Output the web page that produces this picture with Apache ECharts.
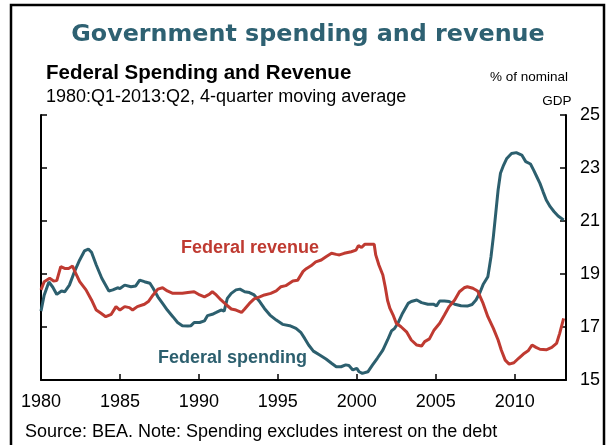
<!DOCTYPE html>
<html>
<head>
<meta charset="utf-8">
<script src="https://cdn.jsdelivr.net/npm/echarts@6/dist/echarts.min.js"></script>
<style>
html,body{margin:0;padding:0;background:#fff;}
#chart{width:609px;height:445px;}
</style>
</head>
<body>
<div id="chart"></div>
<script>
// Data (year, % of nominal GDP)
var spendingData = [
[1980.0,17.6],[1980.2,18.2],[1980.5,18.7],[1980.75,18.5],[1981.0,18.23],[1981.3,18.36],[1981.5,18.33],[1981.8,18.58],
[1982.1,19.06],[1982.45,19.53],[1982.75,19.87],[1983.0,19.94],[1983.2,19.82],[1983.5,19.34],[1983.85,18.84],[1984.3,18.36],
[1984.55,18.4],[1984.85,18.48],[1985.0,18.45],[1985.3,18.58],[1985.7,18.52],[1986.0,18.55],[1986.25,18.77],[1986.55,18.71],
[1986.9,18.65],[1987.1,18.46],[1987.4,18.14],[1987.7,17.89],[1988.0,17.64],[1988.35,17.39],[1988.65,17.17],[1988.95,17.05],
[1989.3,17.04],[1989.5,17.05],[1989.7,17.17],[1990.05,17.17],[1990.35,17.23],[1990.55,17.43],[1990.85,17.48],[1991.1,17.55],
[1991.4,17.64],[1991.6,17.6],[1991.8,18.08],[1992.05,18.27],[1992.35,18.4],[1992.6,18.43],[1992.9,18.33],[1993.2,18.3],
[1993.5,18.21],[1993.85,17.96],[1994.15,17.7],[1994.5,17.45],[1994.9,17.26],[1995.3,17.1],[1995.75,17.05],[1996.15,16.95],
[1996.45,16.8],[1996.7,16.57],[1996.95,16.32],[1997.25,16.09],[1997.65,15.94],[1998.05,15.79],[1998.4,15.63],[1998.7,15.5],
[1999.0,15.5],[1999.3,15.57],[1999.5,15.55],[1999.75,15.38],[2000.0,15.44],[2000.15,15.31],[2000.35,15.25],[2000.7,15.31],
[2001.0,15.57],[2001.3,15.82],[2001.65,16.13],[2001.95,16.51],[2002.2,16.85],[2002.4,16.95],[2002.6,17.14],[2002.9,17.52],
[2003.25,17.89],[2003.45,17.96],[2003.8,18.02],[2004.1,17.92],[2004.5,17.86],[2004.85,17.86],[2005.05,17.8],[2005.25,17.98],
[2005.55,17.98],[2005.85,17.96],[2006.2,17.86],[2006.6,17.8],[2007.0,17.79],[2007.3,17.85],[2007.55,18.02],[2007.8,18.3],
[2008.0,18.6],[2008.3,18.9],[2008.5,19.65],[2008.65,20.41],[2008.8,21.29],[2008.95,22.17],[2009.1,22.8],[2009.3,23.11],
[2009.5,23.36],[2009.8,23.55],[2010.1,23.58],[2010.45,23.49],[2010.7,23.24],[2011.0,23.15],[2011.2,22.92],[2011.4,22.67],
[2011.6,22.42],[2011.8,22.1],[2012.0,21.79],[2012.25,21.54],[2012.5,21.35],[2012.75,21.19],[2013.1,21.04]
];
var revenueData = [
[1980.0,18.4],[1980.2,18.71],[1980.55,18.84],[1980.8,18.74],[1981.0,18.75],[1981.25,19.28],[1981.5,19.21],[1981.75,19.21],
[1982.0,19.3],[1982.2,19.02],[1982.45,18.71],[1982.85,18.4],[1983.2,18.02],[1983.5,17.64],[1983.8,17.52],[1984.1,17.39],
[1984.45,17.48],[1984.75,17.77],[1985.0,17.64],[1985.3,17.77],[1985.6,17.73],[1985.8,17.64],[1986.1,17.77],[1986.55,17.86],
[1986.8,17.96],[1987.1,18.21],[1987.4,18.43],[1987.7,18.48],[1988.0,18.36],[1988.35,18.27],[1988.95,18.27],[1989.3,18.3],
[1989.7,18.33],[1990.05,18.21],[1990.35,18.14],[1990.65,18.23],[1990.85,18.33],[1991.1,18.21],[1991.4,18.02],[1991.75,17.83],
[1992.05,17.68],[1992.35,17.64],[1992.7,17.55],[1992.9,17.68],[1993.2,17.89],[1993.5,18.06],[1993.85,18.14],[1994.15,18.21],
[1994.55,18.27],[1994.9,18.36],[1995.2,18.52],[1995.5,18.56],[1995.95,18.74],[1996.25,18.76],[1996.6,19.1],[1996.8,19.2],
[1997.1,19.31],[1997.4,19.46],[1997.75,19.53],[1998.05,19.65],[1998.4,19.78],[1998.7,19.74],[1998.9,19.72],[1999.2,19.78],
[1999.65,19.84],[1999.95,19.9],[2000.1,20.07],[2000.3,20.0],[2000.5,20.12],[2000.8,20.12],[2001.1,20.12],[2001.2,19.72],
[2001.4,19.34],[2001.65,18.96],[2001.8,18.52],[2001.95,18.0],[2002.1,17.7],[2002.3,17.45],[2002.5,17.14],[2002.8,17.01],
[2003.15,16.82],[2003.45,16.51],[2003.8,16.32],[2004.1,16.28],[2004.3,16.45],[2004.6,16.55],[2004.9,16.89],[2005.25,17.14],
[2005.55,17.45],[2005.85,17.77],[2006.2,18.02],[2006.5,18.33],[2006.8,18.48],[2007.0,18.52],[2007.35,18.46],[2007.65,18.36],
[2008.0,17.89],[2008.3,17.39],[2008.65,16.95],[2008.95,16.51],[2009.15,16.13],[2009.4,15.75],[2009.65,15.6],[2009.95,15.65],
[2010.25,15.82],[2010.55,15.98],[2010.85,16.1],[2011.1,16.32],[2011.35,16.23],[2011.6,16.16],[2012.0,16.14],[2012.35,16.23],
[2012.65,16.38],[2012.85,16.76],[2013.1,17.33]
];
var xTicks = [1980, 1985, 1990, 1995, 2000, 2005, 2010];
var yTicks = [15, 17, 19, 21, 23, 25];

var teal = '#2C5F6E';
var red = '#BF3A31';
var chart = echarts.init(document.getElementById('chart'), null, {renderer: 'canvas'});
var axisLine = {show: true, lineStyle: {color: '#000', width: 2}};
var axisTick = {show: true, inside: true, length: 6, lineStyle: {color: '#000', width: 1.5}};
chart.setOption({
  animation: false,
  backgroundColor: '#fff',
  grid: {left: 41, right: 43, top: 115, bottom: 65},
  xAxis: {
    type: 'value', min: 1980, max: 2013.25, interval: 5,
    axisLine: axisLine, axisTick: axisTick, splitLine: {show: false},
    axisLabel: {
      margin: 13, color: '#000', fontSize: 18, fontFamily: 'Liberation Sans',
      showMaxLabel: false,
      formatter: function (v) { return xTicks.indexOf(v) >= 0 ? String(v) : ''; }
    }
  },
  yAxis: [
    {type: 'value', position: 'left', min: 15, max: 25, interval: 2,
     axisLine: axisLine, axisTick: axisTick, splitLine: {show: false}, axisLabel: {show: false}},
    {type: 'value', position: 'right', min: 15, max: 25, interval: 2,
     axisLine: axisLine, axisTick: axisTick, splitLine: {show: false},
     axisLabel: {margin: 14, color: '#000', fontSize: 18, fontFamily: 'Liberation Sans',
       formatter: function (v) { return yTicks.indexOf(v) >= 0 ? String(v) : ''; }}}
  ],
  series: [
    {type: 'line', name: 'Federal spending', data: spendingData, yAxisIndex: 0, showSymbol: false,
     lineStyle: {color: teal, width: 3}, itemStyle: {color: teal}, z: 3},
    {type: 'line', name: 'Federal revenue', data: revenueData, yAxisIndex: 0, showSymbol: false,
     lineStyle: {color: red, width: 3}, itemStyle: {color: red}, z: 4}
  ],
  graphic: [
    {type: 'rect', shape: {x: 11, y: 5, width: 593, height: 460}, style: {fill: 'none', stroke: '#000', lineWidth: 2.5}, silent: true},
    {type: 'text', x: 308, y: 35, style: {text: 'Government spending and revenue', fill: '#2E6172',
      font: 'bold 23.8px "DejaVu Sans"', textAlign: 'center', textVerticalAlign: 'middle'}},
    {type: 'text', x: 46, y: 73, style: {text: 'Federal Spending and Revenue', fill: '#000',
      font: 'bold 20.5px "Liberation Sans"', textAlign: 'left', textVerticalAlign: 'middle'}},
    {type: 'text', x: 46, y: 97, style: {text: '1980:Q1-2013:Q2, 4-quarter moving average', fill: '#000',
      font: '18px "Liberation Sans"', textAlign: 'left', textVerticalAlign: 'middle'}},
    {type: 'text', x: 568, y: 77, style: {text: '% of nominal', fill: '#000',
      font: '13.5px "Liberation Sans"', textAlign: 'right', textVerticalAlign: 'middle'}},
    {type: 'text', x: 557, y: 101, style: {text: 'GDP', fill: '#000',
      font: '13.5px "Liberation Sans"', textAlign: 'center', textVerticalAlign: 'middle'}},
    {type: 'text', x: 181, y: 248, style: {text: 'Federal revenue', fill: red,
      font: 'bold 18px "Liberation Sans"', textAlign: 'left', textVerticalAlign: 'middle'}},
    {type: 'text', x: 158, y: 358, style: {text: 'Federal spending', fill: teal,
      font: 'bold 18px "Liberation Sans"', textAlign: 'left', textVerticalAlign: 'middle'}},
    {type: 'text', x: 25, y: 432, style: {text: 'Source: BEA. Note: Spending excludes interest on the debt', fill: '#000',
      font: '18px "Liberation Sans"', textAlign: 'left', textVerticalAlign: 'middle'}}
  ]
});
</script>
</body>
</html>
